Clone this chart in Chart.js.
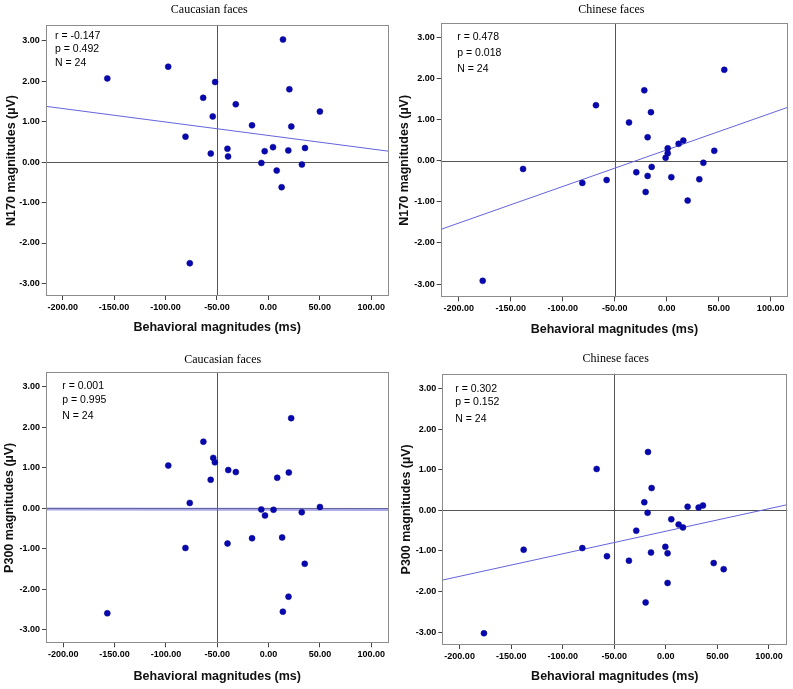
<!DOCTYPE html>
<html>
<head>
<meta charset="utf-8">
<script src="https://cdn.jsdelivr.net/npm/chart.js@4.4.0/dist/chart.umd.min.js"></script>
<style>
body { margin: 0; background: #fff; }
#wrap { position: relative; width: 793px; height: 689px; }
canvas { position: absolute; }
</style>
</head>
<body>
<div id="wrap">
  <canvas id="c1" width="393" height="340" style="left:0;top:0"></canvas>
  <canvas id="c2" width="400" height="340" style="left:393px;top:0"></canvas>
  <canvas id="c3" width="393" height="349" style="left:0;top:340px"></canvas>
  <canvas id="c4" width="400" height="349" style="left:393px;top:340px"></canvas>
</div>
<script>
const xTicks = [-200, -150, -100, -50, 0, 50, 100];
const yTicks = [-3, -2, -1, 0, 1, 2, 3];

// N170, Caucasian faces
const n170CauX = [14.2, -97.4, -156.6, -51.8, 20.4, -63.4, -31.7, 50.1, -54.1, -15.9, 22.3, -80.6,
                  -39.8, 4.5, 35.6, -3.6, 19.4, -56.0, -39.2, -6.8, 32.6, 8.1, 12.9, -76.4];
const n170CauY = [3.03, 2.36, 2.07, 1.98, 1.80, 1.59, 1.43, 1.25, 1.13, 0.91, 0.88, 0.63,
                  0.33, 0.37, 0.35, 0.27, 0.29, 0.21, 0.14, -0.02, -0.06, -0.21, -0.62, -2.50];
const n170CauFitX = [-216.5, 116.8];
const n170CauFitY = [1.38, 0.27];
const n170CauStats = ['r = -0.147', 'p = 0.492', 'N = 24'];

// N170, Chinese faces
const n170ChiX = [55.4, -21.5, -68.0, -15.1, -36.2, -18.3, 16.0, 11.5, 1.0, 1.0, -1.0, 45.8,
                  35.3, -138.1, -14.4, -29.2, -18.3, 4.5, 31.4, -57.7, -81.1, -20.2, 20.2, -176.9];
const n170ChiY = [2.21, 1.71, 1.35, 1.18, 0.93, 0.57, 0.49, 0.41, 0.30, 0.18, 0.07, 0.24,
                  -0.05, -0.20, -0.15, -0.28, -0.37, -0.40, -0.45, -0.47, -0.54, -0.76, -0.97, -2.92];
const n170ChiFitX = [-217.3, 116.7];
const n170ChiFitY = [-1.67, 1.30];
const n170ChiStats = ['r = 0.478', 'p = 0.018', 'N = 24'];

// P300, Caucasian faces
const p300CauX = [22.0, -63.5, -53.9, -52.3, -97.7, -39.3, -31.9, 19.7, 8.4, -56.4, -76.8, 50.0,
                  -7.1, 4.8, 32.3, -3.5, 13.2, -16.1, -40.0, -81.0, 35.2, 19.4, 13.9, -157.1];
const p300CauY = [2.22, 1.64, 1.24, 1.13, 1.05, 0.94, 0.89, 0.88, 0.75, 0.70, 0.13, 0.03,
                  -0.03, -0.04, -0.10, -0.18, -0.72, -0.74, -0.87, -0.98, -1.37, -2.18, -2.55, -2.59];
const p300CauFitX = [-216.8, 116.8];
const p300CauFitY = [-0.02, -0.03];
const p300CauStats = ['r = 0.001', 'p = 0.995', 'N = 24'];

// P300, Chinese faces
const p300ChiX = [-17.3, -67.1, -13.8, -20.9, 21.1, 31.8, 36.0, -17.7, 5.3, 12.4, 16.6, -28.7,
                  -81.0, -0.5, -137.9, -14.4, 1.7, -57.1, -35.8, 46.4, 56.1, 1.7, -19.6, -176.4];
const p300ChiY = [1.44, 1.02, 0.55, 0.20, 0.09, 0.07, 0.12, -0.06, -0.22, -0.35, -0.42, -0.50,
                  -0.93, -0.90, -0.97, -1.04, -1.06, -1.13, -1.24, -1.30, -1.45, -1.79, -2.27, -3.03];
const p300ChiFitX = [-216.8, 117.8];
const p300ChiFitY = [-1.72, 0.14];
const p300ChiStats = ['r = 0.302', 'p = 0.152', 'N = 24'];

Chart.defaults.font.family = '"Liberation Sans", Arial, sans-serif';
Chart.defaults.color = '#111';

// frame, the two reference lines, panel title and the r / p / N box
const frameAndRefs = {
    id: 'frameAndRefs',
    beforeDatasetsDraw(chart) {
        const ctx = chart.ctx;
        const a = chart.chartArea;
        const xs = chart.scales.x, ys = chart.scales.y;
        const vx = Math.round(xs.getPixelForValue(-50)) + 0.5;
        const hy = Math.round(ys.getPixelForValue(0)) + 0.5;
        ctx.save();
        ctx.strokeStyle = '#555';
        ctx.lineWidth = 1;
        ctx.beginPath();
        ctx.moveTo(vx, a.top);
        ctx.lineTo(vx, a.bottom);
        ctx.moveTo(a.left, hy);
        ctx.lineTo(a.right, hy);
        ctx.stroke();
        ctx.restore();
    },
    afterDraw(chart, args, opts) {
        const ctx = chart.ctx;
        const a = chart.chartArea;
        ctx.save();
        ctx.strokeStyle = '#8c8c8c';
        ctx.lineWidth = 1;
        ctx.strokeRect(Math.round(a.left) + 0.5, Math.round(a.top) + 0.5,
                       Math.round(a.right - a.left) - 1, Math.round(a.bottom - a.top) - 1);

        ctx.fillStyle = '#000';
        ctx.textBaseline = 'middle';
        ctx.textAlign = 'center';
        ctx.font = '12px "Liberation Serif", "Times New Roman", serif';
        ctx.fillText(opts.title, opts.titleX, opts.titleY);

        ctx.textAlign = 'left';
        ctx.font = '10.5px "Liberation Sans", Arial, sans-serif';
        opts.stats.forEach((s, i) => {
            ctx.fillText(s, a.left + opts.dx, a.top + opts.dy[i]);
        });
        ctx.restore();
    }
};

function makePanel(id, cfg) {
    const pts = cfg.xs.map((x, i) => ({ x: x, y: cfg.ys[i] }));
    const fit = cfg.fitX.map((x, i) => ({ x: x, y: cfg.fitY[i] }));
    return new Chart(document.getElementById(id), {
        type: 'scatter',
        data: {
            datasets: [
                {
                    label: 'fit',
                    data: fit,
                    showLine: true,
                    borderColor: cfg.fitColor,
                    borderWidth: cfg.fitWidth,
                    pointRadius: 0,
                    order: 2
                },
                {
                    label: 'subjects',
                    data: pts,
                    backgroundColor: '#0808b0',
                    borderColor: '#06068a',
                    borderWidth: 0.5,
                    pointRadius: 3,
                    order: 1
                }
            ]
        },
        options: {
            responsive: false,
            animation: false,
            layout: { padding: { left: 0, right: cfg.padRight, top: cfg.padTop, bottom: 0 } },
            plugins: {
                legend: { display: false },
                tooltip: { enabled: false },
                title: { display: false },
                frameAndRefs: {
                    title: cfg.title, titleX: cfg.titleX, titleY: cfg.titleY,
                    stats: cfg.stats, dx: cfg.statsDx, dy: cfg.statsDy
                }
            },
            scales: {
                x: {
                    type: 'linear',
                    min: cfg.xMin,
                    max: cfg.xMax,
                    afterBuildTicks: s => { s.ticks = xTicks.map(v => ({ value: v })); },
                    afterFit: s => { s.height = cfg.xHeight; },
                    ticks: {
                        callback: v => v.toFixed(2),
                        font: { size: 9, weight: 'bold' },
                        color: '#000',
                        padding: 2,
                        maxRotation: 0
                    },
                    grid: { drawOnChartArea: false, tickLength: 4, color: '#444' },
                    border: { display: false },
                    title: {
                        display: true,
                        text: 'Behavioral magnitudes (ms)',
                        font: { size: 12.5, weight: 'bold' },
                        color: '#111',
                        padding: { top: 0, bottom: cfg.xTitleBottom }
                    }
                },
                y: {
                    type: 'linear',
                    min: cfg.yMin,
                    max: cfg.yMax,
                    afterBuildTicks: s => { s.ticks = yTicks.map(v => ({ value: v })); },
                    afterFit: s => { s.width = cfg.yWidth; },
                    ticks: {
                        callback: v => v.toFixed(2),
                        font: { size: 9, weight: 'bold' },
                        color: '#000',
                        padding: 2
                    },
                    grid: { drawOnChartArea: false, tickLength: 4, color: '#444' },
                    border: { display: false },
                    title: {
                        display: true,
                        text: cfg.yLabel,
                        font: { size: 12.5, weight: 'bold' },
                        color: '#111',
                        padding: { top: cfg.yTitleTop, bottom: 0 }
                    }
                }
            }
        },
        plugins: [frameAndRefs]
    });
}

makePanel('c1', {
    title: 'Caucasian faces', yLabel: 'N170 magnitudes (\u00b5V)',
    xs: n170CauX, ys: n170CauY, fitX: n170CauFitX, fitY: n170CauFitY, stats: n170CauStats,
    fitColor: '#6464dc', fitWidth: 1,
    xMin: -216.5, xMax: 116.8, yMin: -3.31, yMax: 3.39,
    padRight: 3.7, padTop: 25, xHeight: 44, yWidth: 45.7, titleX: 209.3, titleY: 10,
    xTitleBottom: 4.5, yTitleTop: 4.2, statsDx: 9.3, statsDy: [11, 24.3, 38.3]
});

makePanel('c2', {
    title: 'Chinese faces', yLabel: 'N170 magnitudes (\u00b5V)',
    xs: n170ChiX, ys: n170ChiY, fitX: n170ChiFitX, fitY: n170ChiFitY, stats: n170ChiStats,
    fitColor: '#6464dc', fitWidth: 1,
    xMin: -217.3, xMax: 116.7, yMin: -3.32, yMax: 3.34,
    padRight: 5, padTop: 23.3, xHeight: 42.7, yWidth: 47.7, titleX: 218.3, titleY: 10,
    xTitleBottom: 3.2, yTitleTop: 4.2, statsDx: 16.6, statsDy: [14, 29.4, 46]
});

makePanel('c3', {
    title: 'Caucasian faces', yLabel: 'P300 magnitudes (\u00b5V)',
    xs: p300CauX, ys: p300CauY, fitX: p300CauFitX, fitY: p300CauFitY, stats: p300CauStats,
    fitColor: 'rgba(110, 110, 210, 0.6)', fitWidth: 3,
    xMin: -216.8, xMax: 116.8, yMin: -3.33, yMax: 3.35,
    padRight: 2.3, padTop: 32.3, xHeight: 45.7, yWidth: 46, titleX: 222.7, titleY: 20,
    xTitleBottom: 4.5, yTitleTop: 2.5, statsDx: 16.3, statsDy: [13.7, 27.7, 43.7]
});

makePanel('c4', {
    title: 'Chinese faces', yLabel: 'P300 magnitudes (\u00b5V)',
    xs: p300ChiX, ys: p300ChiY, fitX: p300ChiFitX, fitY: p300ChiFitY, stats: p300ChiStats,
    fitColor: '#6464dc', fitWidth: 1,
    xMin: -216.8, xMax: 117.8, yMin: -3.32, yMax: 3.37,
    padRight: 5.7, padTop: 33.7, xHeight: 44, yWidth: 49.3, titleX: 222.7, titleY: 19.3,
    xTitleBottom: 4.8, yTitleTop: 5.8, statsDx: 13, statsDy: [15.3, 28.6, 45.3]
});
</script>
</body>
</html>
